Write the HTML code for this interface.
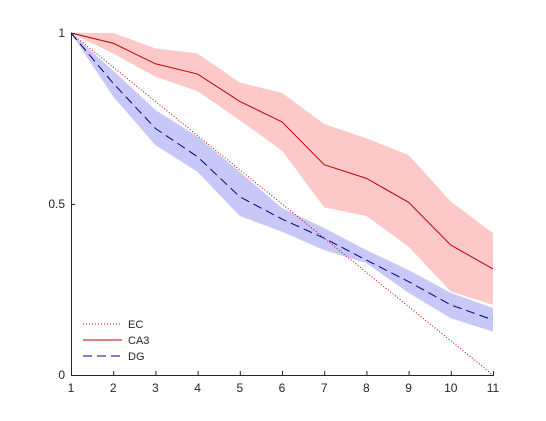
<!DOCTYPE html>
<html><head><meta charset="utf-8"><style>
html,body{margin:0;padding:0;background:#fff;}
svg{display:block;font-family:"Liberation Sans","DejaVu Sans",sans-serif;}
</style></head><body>
<svg id="chart" width="546" height="421" viewBox="0 0 546 421" xmlns="http://www.w3.org/2000/svg">
<rect width="546" height="421" fill="#fff"/>
<g id="bands"></g>
<g id="lines"></g>
<g id="axes"></g>
<g id="legend"></g>
</svg>
<script>
const xCats = [1,2,3,4,5,6,7,8,9,10,11];
const ecMean = [1,0.9,0.8,0.7,0.6,0.5,0.4,0.3,0.2,0.1,0];
const ca3Mean = [1,0.97,0.91,0.88,0.80,0.74,0.615,0.575,0.505,0.38,0.31];
const ca3Upper = [1,1.0,0.955,0.94,0.855,0.825,0.734,0.692,0.643,0.507,0.415];
const ca3Lower = [1,0.94,0.872,0.83,0.745,0.656,0.49,0.465,0.375,0.244,0.205];
const dgMean = [1,0.853,0.721,0.638,0.521,0.456,0.40,0.336,0.273,0.205,0.161];
const dgUpper = [1,0.89,0.775,0.697,0.594,0.488,0.43,0.365,0.307,0.24,0.196];
const dgLower = [1,0.814,0.672,0.594,0.465,0.419,0.365,0.327,0.24,0.166,0.127];
const xTicks = [1,2,3,4,5,6,7,8,9,10,11];
const yTicks = [0,0.5,1];
const yTickLabels = ["0","0.5","1"];

const NS="http://www.w3.org/2000/svg";
const X0=71,X1=493,Y0=375,Y1=33;
function sx(v){return X0+(v-1)/(10)*(X1-X0);}
function sy(v){return Y0-v*(Y0-Y1);}
function mk(tag,attrs,parent){const e=document.createElementNS(NS,tag);for(const k in attrs)e.setAttribute(k,attrs[k]);parent.appendChild(e);return e;}
const bands=document.getElementById('bands'),lines=document.getElementById('lines'),axes=document.getElementById('axes'),legend=document.getElementById('legend');

function band(up,lo,fill,name){
  let pts=xCats.map((x,i)=>sx(x)+','+sy(up[i]));
  pts=pts.concat(xCats.map((x,i)=>[x,i]).reverse().map(([x,i])=>sx(x)+','+sy(lo[i])));
  const p=mk('polygon',{points:pts.join(' '),fill:fill},bands);
  
  
}
band(ca3Upper,ca3Lower,'#fcc8c8','ca3-band');
band(dgUpper,dgLower,'#c8c8f8','dg-band');

function line(vals,stroke,dash,name){
  const p=mk('polyline',{points:xCats.map((x,i)=>sx(x)+','+sy(vals[i])).join(' '),fill:'none',stroke:stroke,'stroke-width':1,'stroke-dasharray':dash},lines);
  
  
}
line(ecMean,'#c00000','1 2','ec-line');
line(ca3Mean,'#c00000','none','ca3-line');
line(dgMean,'#00008b','9 5','dg-line');

let a=mk('line',{x1:X0,y1:Y0+0.5,x2:X1+1,y2:Y0+0.5,stroke:'#262626','stroke-width':1},axes);


a=mk('line',{x1:X0+0.5,y1:Y1,x2:X0+0.5,y2:Y0+1,stroke:'#262626','stroke-width':1},axes);


xTicks.forEach(v=>{
  const t=mk('line',{x1:sx(v)+0.5,y1:Y0,x2:sx(v)+0.5,y2:Y0-4,stroke:'#262626'},axes);
  
  
  const l=mk('text',{x:sx(v),y:Y0+17,'text-anchor':'middle','font-size':12,fill:'#262626'},axes);
  l.textContent=v;
  
  
});
yTicks.forEach((v,i)=>{
  const t=mk('line',{x1:X0,y1:sy(v)+0.5,x2:X0+4,y2:sy(v)+0.5,stroke:'#262626'},axes);
  
  
  const l=mk('text',{x:X0-6,y:sy(v)+4,'text-anchor':'end','font-size':12,fill:'#262626'},axes);
  l.textContent=yTickLabels[i];
  
  
});

const legItems=[['EC','#c00000','1 2'],['CA3','#c00000','none'],['DG','#00008b','9 5']];
legItems.forEach((it,i)=>{
  const y=324+i*16;
  const l=mk('line',{x1:83,y1:y,x2:122,y2:y,stroke:it[1],'stroke-dasharray':it[2]},legend);
  
  
  const t=mk('text',{x:128,y:y+4,'font-size':11,fill:'#262626'},legend);
  t.textContent=it[0];
  
  
});
</script>
</body></html>
